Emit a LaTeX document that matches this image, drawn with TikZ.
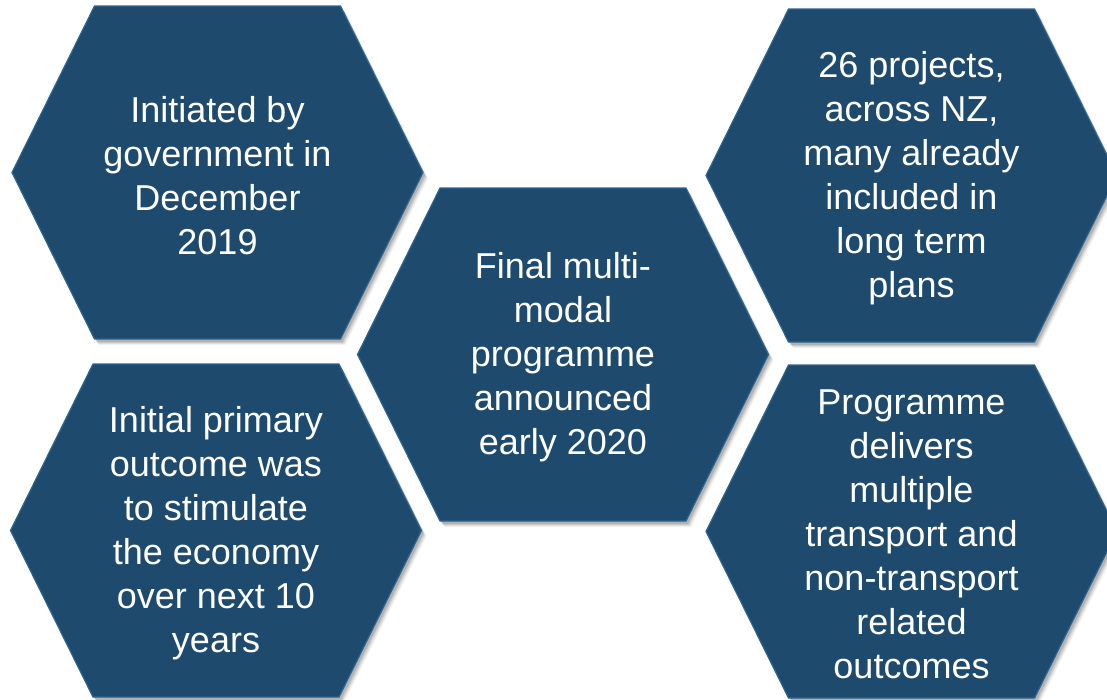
\documentclass[tikz,border=0pt]{standalone}
\usepackage{fontspec}
\setmainfont{Liberation Sans}
\definecolor{hexfill}{HTML}{1E4A6D}
\definecolor{hexline}{HTML}{2D6591}
\tikzset{
  hextext/.style={align=center,text=white,font=\fontsize{36}{44}\selectfont,inner sep=0pt},
  hexbody/.style={fill=hexfill,draw=hexline,line width=1.2pt,line join=miter},
}
\newcommand\hexshape{(-205.5,0) -- (-123,166.5) -- (123,166.5) -- (205.5,0) -- (123,-166.5) -- (-123,-166.5) -- cycle}
\newcommand\hexcell[4]{%
  \begin{scope}[shift={(#2,#3)}]
    \foreach \dx/\dy/\op in {5/6/0.05,4/5/0.07,3/4/0.09,2/3/0.12}{
      \fill[black,opacity=\op,shift={(\dx,\dy)}] \hexshape;
    }
    \path[hexbody] \hexshape;
  \end{scope}
  \node[hextext] (#1) at (#2,#3+3) {#4};
}
\begin{document}
\begin{tikzpicture}[x=1pt,y=-1pt]
\useasboundingbox (0,0) rectangle (1107,699);
\clip (0,0) rectangle (1107,699);
\fill[white] (0,0) rectangle (1107,699);
\hexcell{h1}{217.5}{172.5}{Initiated by\\government in\\December\\2019}
\hexcell{h4}{216}{530.5}{Initial primary\\outcome was\\to stimulate\\the economy\\over next 10\\years}
\hexcell{h3}{911.5}{175.5}{26 projects,\\across NZ,\\many already\\included in\\long term\\plans}
\hexcell{h5}{911.5}{531.5}{Programme\\delivers\\multiple\\transport and\\non-transport\\related\\outcomes}
\hexcell{h2}{563}{354.5}{Final multi-\\modal\\programme\\announced\\early 2020}
\end{tikzpicture}
\end{document}
